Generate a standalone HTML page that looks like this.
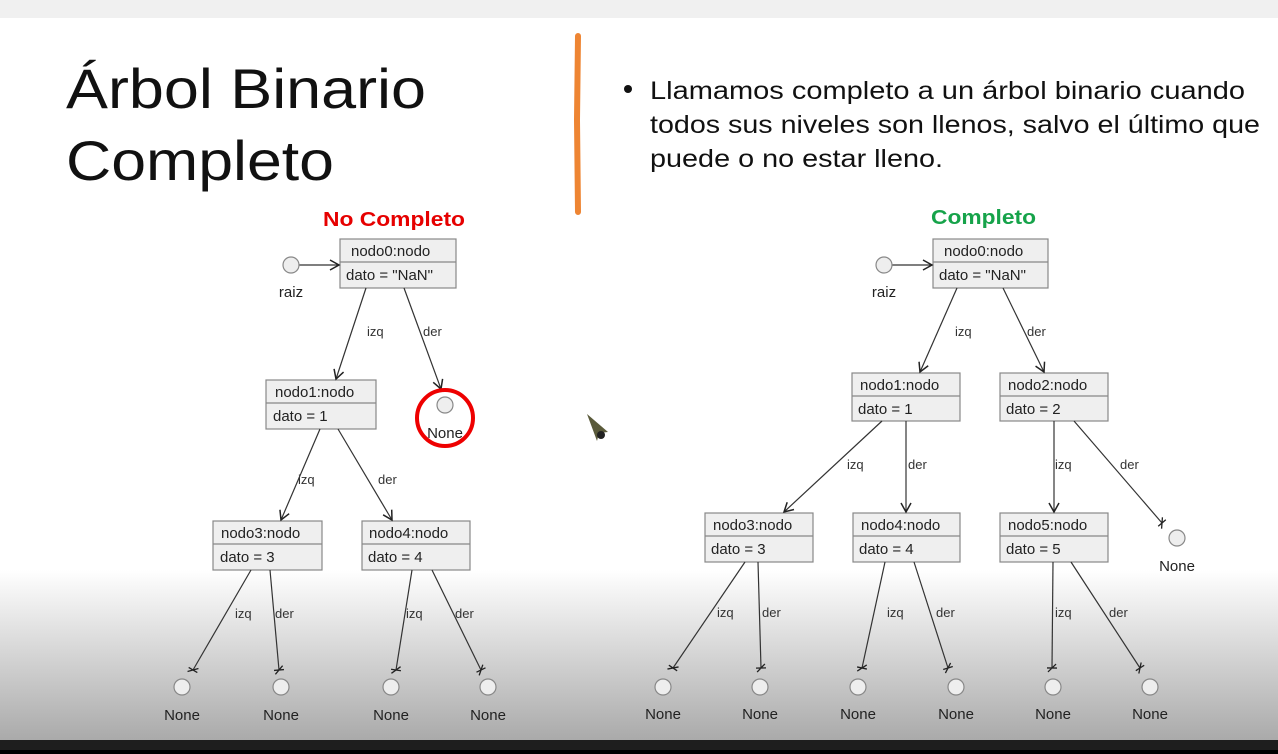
<!DOCTYPE html>
<html><head><meta charset="utf-8"><style>
html,body{margin:0;padding:0;width:1278px;height:754px;overflow:hidden;background:#fff}
svg{display:block}
.t{font-family:"Liberation Sans",sans-serif;font-size:15px;fill:#222}
.l{font-family:"Liberation Sans",sans-serif;font-size:13px;fill:#333}
</style></head><body>
<svg width="1278" height="754" viewBox="0 0 1278 754" xmlns="http://www.w3.org/2000/svg">
<defs>
<linearGradient id="bg" x1="0" y1="0" x2="0" y2="1">
<stop offset="0" stop-color="#ffffff"/><stop offset="1" stop-color="#a9a9a9"/>
</linearGradient>
<marker id="ar" markerWidth="12" markerHeight="12" refX="10" refY="6" orient="auto" markerUnits="userSpaceOnUse">
<path d="M1,1 L10,6 L1,11" fill="none" stroke="#222" stroke-width="1.5"/></marker>
<marker id="xx" markerWidth="12" markerHeight="12" refX="6" refY="6" orient="auto" markerUnits="userSpaceOnUse">
<path d="M6,1 L6,11 M2,2 L10,10" fill="none" stroke="#222" stroke-width="1.3"/></marker>
</defs>
<rect x="0" y="0" width="1278" height="754" fill="#fff"/>
<rect x="0" y="0" width="1278" height="18" fill="#f0f0f0"/>
<rect x="0" y="570" width="1278" height="172" fill="url(#bg)"/>
<rect x="0" y="740" width="1278" height="14" fill="#1e1e1e"/>
<rect x="0" y="750" width="1278" height="4" fill="#000"/>

<text x="66" y="108" font-family="Liberation Sans,sans-serif" font-size="56" fill="#111" textLength="360" lengthAdjust="spacingAndGlyphs">Árbol Binario</text>
<text x="66" y="180" font-family="Liberation Sans,sans-serif" font-size="56" fill="#111" textLength="268" lengthAdjust="spacingAndGlyphs">Completo</text>
<path d="M578,36 L577,120 L578,212" stroke="#ee8533" stroke-width="6" fill="none" stroke-linecap="round"/>
<circle cx="628" cy="89" r="4" fill="#111"/>
<g font-family="Liberation Sans,sans-serif" font-size="25" fill="#111">
<text x="650" y="99" textLength="595" lengthAdjust="spacingAndGlyphs">Llamamos completo a un árbol binario cuando</text>
<text x="650" y="133" textLength="610" lengthAdjust="spacingAndGlyphs">todos sus niveles son llenos, salvo el último que</text>
<text x="650" y="167" textLength="293" lengthAdjust="spacingAndGlyphs">puede o no estar lleno.</text>
</g>
<text x="323" y="226" font-family="Liberation Sans,sans-serif" font-weight="bold" font-size="20" fill="#e60000" textLength="142" lengthAdjust="spacingAndGlyphs">No Completo</text>
<text x="931" y="224" font-family="Liberation Sans,sans-serif" font-weight="bold" font-size="20" fill="#16a34a" textLength="105" lengthAdjust="spacingAndGlyphs">Completo</text>

<g fill="#efefef" stroke="#888" stroke-width="1.2">
<rect x="340" y="239" width="116" height="49"/><line x1="340" y1="262" x2="456" y2="262"/>
<rect x="266" y="380" width="110" height="49"/><line x1="266" y1="403" x2="376" y2="403"/>
<rect x="213" y="521" width="109" height="49"/><line x1="213" y1="544" x2="322" y2="544"/>
<rect x="362" y="521" width="108" height="49"/><line x1="362" y1="544" x2="470" y2="544"/>
<rect x="933" y="239" width="115" height="49"/><line x1="933" y1="262" x2="1048" y2="262"/>
<rect x="852" y="373" width="108" height="48"/><line x1="852" y1="396" x2="960" y2="396"/>
<rect x="1000" y="373" width="108" height="48"/><line x1="1000" y1="396" x2="1108" y2="396"/>
<rect x="705" y="513" width="108" height="49"/><line x1="705" y1="536" x2="813" y2="536"/>
<rect x="853" y="513" width="107" height="49"/><line x1="853" y1="536" x2="960" y2="536"/>
<rect x="1000" y="513" width="108" height="49"/><line x1="1000" y1="536" x2="1108" y2="536"/>
</g>
<g class="t">
<text x="351" y="256">nodo0:nodo</text><text x="346" y="280">dato = "NaN"</text>
<text x="275" y="397">nodo1:nodo</text><text x="273" y="421">dato = 1</text>
<text x="221" y="538">nodo3:nodo</text><text x="220" y="562">dato = 3</text>
<text x="369" y="538">nodo4:nodo</text><text x="368" y="562">dato = 4</text>
<text x="944" y="256">nodo0:nodo</text><text x="939" y="280">dato = "NaN"</text>
<text x="860" y="390">nodo1:nodo</text><text x="858" y="414">dato = 1</text>
<text x="1008" y="390">nodo2:nodo</text><text x="1006" y="414">dato = 2</text>
<text x="713" y="530">nodo3:nodo</text><text x="711" y="554">dato = 3</text>
<text x="861" y="530">nodo4:nodo</text><text x="859" y="554">dato = 4</text>
<text x="1008" y="530">nodo5:nodo</text><text x="1006" y="554">dato = 5</text>
</g>

<g stroke="#333" stroke-width="1.2" fill="none">
<line x1="299" y1="265" x2="339" y2="265" marker-end="url(#ar)"/>
<line x1="892" y1="265" x2="932" y2="265" marker-end="url(#ar)"/>
<line x1="366" y1="288" x2="336" y2="379" marker-end="url(#ar)"/>
<line x1="404" y1="288" x2="441" y2="389" marker-end="url(#ar)"/>
<line x1="320" y1="429" x2="281" y2="520" marker-end="url(#ar)"/>
<line x1="338" y1="429" x2="392" y2="520" marker-end="url(#ar)"/>
<line x1="251" y1="570" x2="193" y2="670" marker-end="url(#xx)"/>
<line x1="270" y1="570" x2="279" y2="670" marker-end="url(#xx)"/>
<line x1="412" y1="570" x2="396" y2="670" marker-end="url(#xx)"/>
<line x1="432" y1="570" x2="481" y2="670" marker-end="url(#xx)"/>
<line x1="957" y1="288" x2="920" y2="372" marker-end="url(#ar)"/>
<line x1="1003" y1="288" x2="1044" y2="372" marker-end="url(#ar)"/>
<line x1="882" y1="421" x2="784" y2="512" marker-end="url(#ar)"/>
<line x1="906" y1="421" x2="906" y2="512" marker-end="url(#ar)"/>
<line x1="1054" y1="421" x2="1054" y2="512" marker-end="url(#ar)"/>
<line x1="1074" y1="421" x2="1162" y2="523" marker-end="url(#xx)"/>
<line x1="745" y1="562" x2="673" y2="668" marker-end="url(#xx)"/>
<line x1="758" y1="562" x2="761" y2="668" marker-end="url(#xx)"/>
<line x1="885" y1="562" x2="862" y2="668" marker-end="url(#xx)"/>
<line x1="914" y1="562" x2="948" y2="668" marker-end="url(#xx)"/>
<line x1="1053" y1="562" x2="1052" y2="668" marker-end="url(#xx)"/>
<line x1="1071" y1="562" x2="1140" y2="668" marker-end="url(#xx)"/>
</g>
<g class="l">
<text x="367" y="336">izq</text><text x="423" y="336">der</text>
<text x="298" y="484">izq</text><text x="378" y="484">der</text>
<text x="235" y="618">izq</text><text x="275" y="618">der</text>
<text x="406" y="618">izq</text><text x="455" y="618">der</text>
<text x="955" y="336">izq</text><text x="1027" y="336">der</text>
<text x="847" y="469">izq</text><text x="908" y="469">der</text>
<text x="1055" y="469">izq</text><text x="1120" y="469">der</text>
<text x="717" y="617">izq</text><text x="762" y="617">der</text>
<text x="887" y="617">izq</text><text x="936" y="617">der</text>
<text x="1055" y="617">izq</text><text x="1109" y="617">der</text>
</g>

<g fill="#eee" stroke="#888" stroke-width="1.2">
<circle cx="291" cy="265" r="8"/><circle cx="884" cy="265" r="8"/>
<circle cx="445" cy="405" r="8"/><circle cx="1177" cy="538" r="8"/>
<circle cx="182" cy="687" r="8"/><circle cx="281" cy="687" r="8"/><circle cx="391" cy="687" r="8"/><circle cx="488" cy="687" r="8"/>
<circle cx="663" cy="687" r="8"/><circle cx="760" cy="687" r="8"/><circle cx="858" cy="687" r="8"/><circle cx="956" cy="687" r="8"/><circle cx="1053" cy="687" r="8"/><circle cx="1150" cy="687" r="8"/>
</g>
<g font-family="Liberation Sans,sans-serif" font-size="15" fill="#222" text-anchor="middle">
<text x="291" y="297">raiz</text><text x="884" y="297">raiz</text>
<text x="445" y="438">None</text><text x="1177" y="571">None</text>
<text x="182" y="720">None</text><text x="281" y="720">None</text><text x="391" y="720">None</text><text x="488" y="720">None</text>
<text x="663" y="719">None</text><text x="760" y="719">None</text><text x="858" y="719">None</text><text x="956" y="719">None</text><text x="1053" y="719">None</text><text x="1150" y="719">None</text>
</g>
<circle cx="445" cy="418" r="28" fill="none" stroke="#e00" stroke-width="4"/>
<path d="M587,414 L608,432 L599,433 L597,441 Z" fill="#5a5a3a"/>
<circle cx="601" cy="435" r="4" fill="#222"/>
</svg>
</body></html>
